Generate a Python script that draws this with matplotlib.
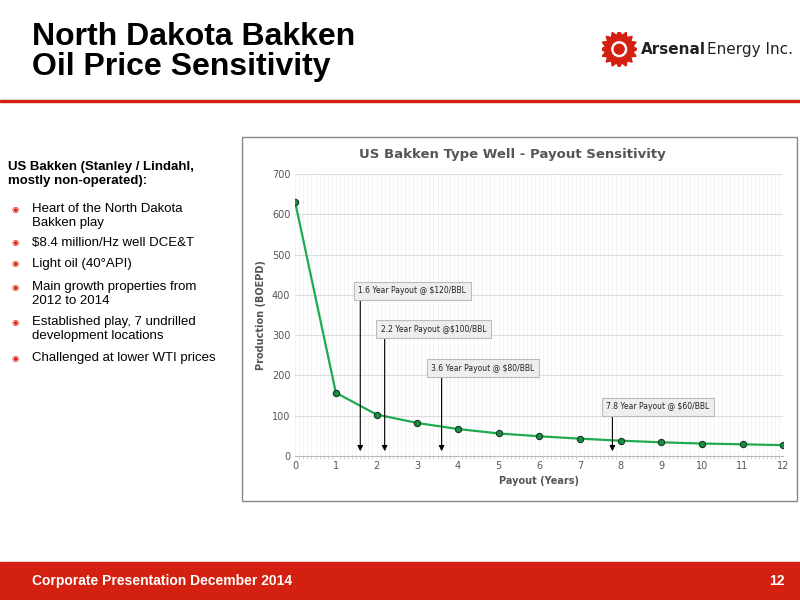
import numpy as np
import matplotlib.pyplot as plt
from matplotlib.patches import Rectangle, Circle, RegularPolygon

# Type well data
years = [0, 1, 2, 3, 4, 5, 6, 7, 8, 9, 10, 11, 12]
boepd = [630, 157, 103, 82, 67, 56, 49, 43, 38, 34, 31, 29, 27]

payout_years = [1.6, 2.2, 3.6, 7.8]
payout_labels = ['1.6 Year Payout @ $120/BBL', '2.2 Year Payout @$100/BBL',
                 '3.6 Year Payout @ $80/BBL', '7.8 Year Payout @ $60/BBL']
box_pos = [(1.55, 410), (2.1, 315), (3.35, 218), (7.65, 122)]

bullets = ['Heart of the North Dakota\nBakken play', '$8.4 million/Hz well DCE&T',
           'Light oil (40°API)', 'Main growth properties from\n2012 to 2014',
           'Established play, 7 undrilled\ndevelopment locations',
           'Challenged at lower WTI prices']

red = '#d42010'
fig = plt.figure(figsize=(8, 6), dpi=100)
fig.patch.set_facecolor('white')

# slide decorations
fig.text(0.04, 0.913, 'North Dakota Bakken\nOil Price Sensitivity', fontsize=23,
         fontweight='bold', va='center', family='Liberation Sans', linespacing=1.0)
fig.add_artist(Rectangle((0, 0.83), 1, 0.004, transform=fig.transFigure, color=red))
fig.add_artist(Rectangle((0, 0), 1, 0.063, transform=fig.transFigure, color=red))
fig.text(0.04, 0.031, 'Corporate Presentation December 2014', color='white',
         fontsize=10, fontweight='bold', va='center', family='Liberation Sans')
fig.text(0.98, 0.031, '12', color='white', fontsize=10, fontweight='bold',
         va='center', ha='right', family='Liberation Sans')

# logo
lax = fig.add_axes([0.752, 0.888, 0.044, 0.06])
lax.set_xlim(-1, 1); lax.set_ylim(-1, 1); lax.axis('off'); lax.set_aspect('equal')
lax.add_patch(Circle((0, 0), 0.78, color=red))
for k in range(16):
    a = 2 * np.pi * k / 16
    lax.add_patch(RegularPolygon((0.82 * np.cos(a), 0.82 * np.sin(a)), 3, radius=0.22,
                                 orientation=a - np.pi / 2, color=red))
lax.add_patch(Circle((0, 0), 0.42, color='white'))
lax.add_patch(Circle((0, 0), 0.28, color=red))
fig.text(0.801, 0.917, 'Arsenal', fontsize=11, fontweight='bold', va='center', color='#222222')
fig.text(0.884, 0.917, 'Energy Inc.', fontsize=11, va='center', color='#222222')

# left text
fig.text(0.01, 0.71, 'US Bakken (Stanley / Lindahl,\nmostly non-operated):', fontsize=9.5,
         fontweight='bold', va='center', family='Liberation Sans', linespacing=1.3)
ys = [0.64, 0.595, 0.56, 0.51, 0.452, 0.403]
for y, b in zip(ys, bullets):
    fig.text(0.014, y + (0.011 if '\n' in b else 0), '\u25c9', color=red, fontsize=6, va='center')
    fig.text(0.04, y, b, fontsize=9.5, va='center', family='Liberation Sans', linespacing=1.2)

# chart frame
fig.add_artist(Rectangle((0.303, 0.165), 0.693, 0.607, transform=fig.transFigure,
                         fill=False, ec='#888888', lw=1))
fig.text(0.64, 0.742, 'US Bakken Type Well - Payout Sensitivity', fontsize=9.5,
         fontweight='bold', color='#555555', ha='center', va='center')

ax = fig.add_axes([0.369, 0.24, 0.61, 0.47])
ax.plot(years, boepd, color='#1faa50', lw=1.6, marker='o', ms=4.5,
        mfc='#1d8a45', mec='#0c3d1e', mew=0.8, zorder=3)
ax.set_xlim(0, 12); ax.set_ylim(0, 700)
ax.set_xticks(range(13)); ax.set_yticks(range(0, 701, 100))
ax.set_xticks(np.arange(0, 12.01, 0.1), minor=True)
ax.grid(True, which='major', axis='y', color='#dddddd', lw=0.8)
ax.grid(True, which='minor', axis='x', color='#eeeeee', lw=0.5)
ax.grid(True, which='major', axis='x', color='#eeeeee', lw=0.5)
for s in ['top', 'right', 'left']:
    ax.spines[s].set_visible(False)
ax.spines['bottom'].set_color('#bbbbbb')
ax.tick_params(axis='both', which='both', length=0, labelsize=7, labelcolor='#555555')
ax.tick_params(axis='x', which='minor', length=2, color='#cccccc')
ax.set_xlabel('Payout (Years)', fontsize=7, fontweight='bold', color='#555555')
ax.set_ylabel('Production (BOEPD)', fontsize=7, fontweight='bold', color='#555555')

for x, lab, (bx, by) in zip(payout_years, payout_labels, box_pos):
    ax.annotate('', xy=(x, 5), xytext=(x, by - 15),
                arrowprops=dict(arrowstyle='-|>', color='black', lw=0.8, mutation_scale=8))
    ax.text(bx, by, lab, fontsize=5.5, va='center', color='#222222', zorder=4,
            bbox=dict(boxstyle='square,pad=0.6', fc='#eeeeee', ec='#bbbbbb', lw=0.8))

fig.savefig('out.png', dpi=100)
